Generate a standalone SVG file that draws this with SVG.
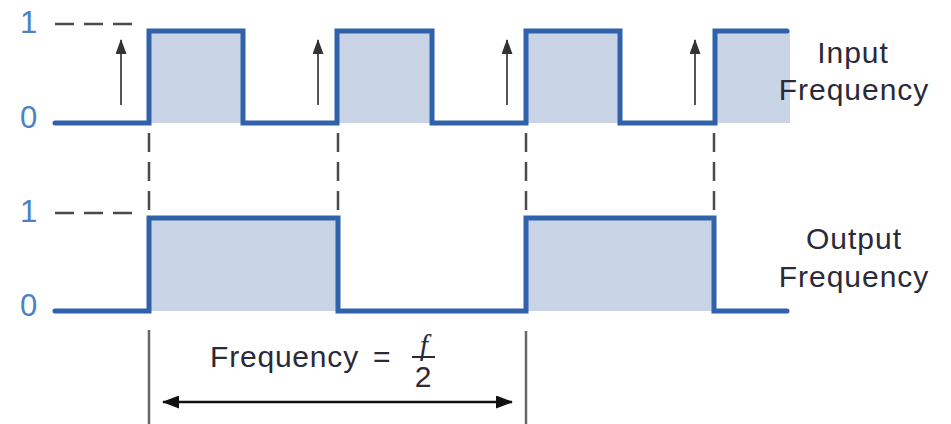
<svg xmlns="http://www.w3.org/2000/svg" width="951" height="424" viewBox="0 0 951 424">
  <style>
    .wave { fill: none; stroke: #2f62ab; stroke-width: 5; stroke-linejoin: miter; stroke-linecap: round; }
    .shade { fill: #c9d5e6; }
    .dash { fill: none; stroke: #4a4a4a; stroke-width: 2.5; stroke-dasharray: 19 10; }
    .lvl { font-family: "Liberation Sans", Arial, sans-serif; font-size: 31px; fill: #4a82c3; }
    .lbl { font-family: "Liberation Sans", Arial, sans-serif; font-size: 30px; fill: #2a2a38; text-anchor: middle; letter-spacing: 1px; }
    .txt { font-family: "Liberation Sans", Arial, sans-serif; font-size: 30px; fill: #2a2a38; }
    .arr { stroke: #555; stroke-width: 2; fill: none; }
    .dim { stroke: #111; stroke-width: 2.5; fill: none; }
    .tick { stroke: #666; stroke-width: 2.5; fill: none; }
  </style>
  <defs>
    <marker id="up" viewBox="0 0 15 11" refX="14" refY="5.5" markerWidth="15" markerHeight="11" orient="auto" markerUnits="userSpaceOnUse">
      <path d="M0,0 L15,5.5 L0,11 z" fill="#333"/>
    </marker>
    <marker id="dimEnd" viewBox="0 0 17 13" refX="16" refY="6.5" markerWidth="17" markerHeight="13" orient="auto-start-reverse" markerUnits="userSpaceOnUse">
      <path d="M0,0 L17,6.5 L0,13 z" fill="#111"/>
    </marker>
  </defs>

  <g id="input-signal">
    <rect class="shade" x="149" y="31" width="94" height="92"/>
    <rect class="shade" x="337" y="31" width="95" height="92"/>
    <rect class="shade" x="526" y="31" width="94" height="92"/>
    <rect class="shade" x="715" y="31" width="75" height="92"/>
    <path class="wave" d="M55,123 H149 V31 H243 V123 H337 V31 H432 V123 H526 V31 H620 V123 H715 V31 H787"/>
    <text class="lvl" x="20" y="33">1</text>
    <text class="lvl" x="20" y="128">0</text>
    <text class="lbl" x="853" y="63">Input</text>
    <text class="lbl" x="854" y="100">Frequency</text>
  </g>

  <g id="output-signal">
    <rect class="shade" x="149" y="218" width="189" height="93"/>
    <rect class="shade" x="526" y="218" width="188" height="93"/>
    <path class="wave" d="M55,311 H149 V218 H338 V311 H526 V218 H714 V311 H787"/>
    <text class="lvl" x="20" y="222">1</text>
    <text class="lvl" x="20" y="316">0</text>
    <text class="lbl" x="854" y="249">Output</text>
    <text class="lbl" x="854" y="287">Frequency</text>
  </g>

  <g id="period-label">
    <text class="txt" x="210" y="367"><tspan letter-spacing="0.8">Frequency</tspan><tspan x="373">=</tspan></text>
    <text x="424" y="355" font-family="Liberation Serif, serif" font-style="italic" font-size="30" fill="#2a2a38" text-anchor="middle">f</text>
    <line x1="412" y1="357" x2="435" y2="357" stroke="#2a2a38" stroke-width="2"/>
    <text class="txt" x="423" y="387" text-anchor="middle">2</text>
  </g>

  <g id="connectors">
    <line class="dash" x1="55" y1="24" x2="136" y2="24"/>
    <line class="dash" x1="55" y1="213" x2="136" y2="213"/>
    <line class="dash" x1="149" y1="133" x2="149" y2="214"/>
    <line class="dash" x1="338" y1="133" x2="338" y2="214"/>
    <line class="dash" x1="526" y1="133" x2="526" y2="214"/>
    <line class="dash" x1="714" y1="133" x2="714" y2="214"/>
    <line class="arr" x1="121" y1="105" x2="121" y2="40" marker-end="url(#up)"/>
    <line class="arr" x1="318" y1="105" x2="318" y2="40" marker-end="url(#up)"/>
    <line class="arr" x1="507" y1="105" x2="507" y2="40" marker-end="url(#up)"/>
    <line class="arr" x1="695" y1="105" x2="695" y2="40" marker-end="url(#up)"/>
    <line class="tick" x1="149" y1="330" x2="149" y2="424"/>
    <line class="tick" x1="526" y1="331" x2="526" y2="424"/>
    <line class="dim" x1="163" y1="402" x2="512" y2="402" marker-start="url(#dimEnd)" marker-end="url(#dimEnd)"/>
  </g>
</svg>
